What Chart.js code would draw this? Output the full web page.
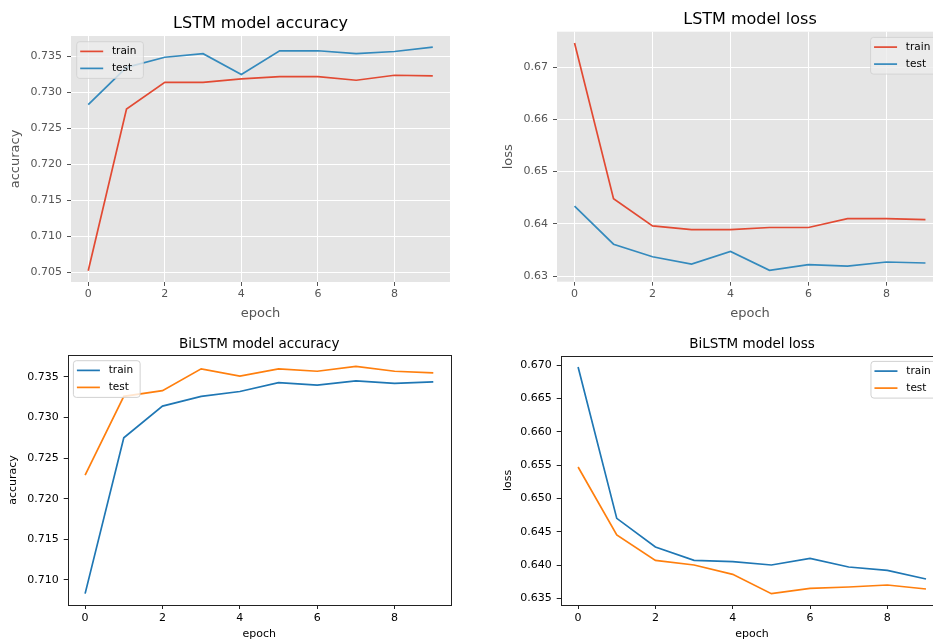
<!DOCTYPE html>
<html>
<head>
<meta charset="utf-8">
<script src="https://cdn.jsdelivr.net/npm/chart.js@4"></script>
<style>
  html, body { margin: 0; padding: 0; background: #fff; overflow: hidden; }
  body { width: 933px; height: 640px; position: relative; }
  canvas { position: absolute; }
</style>
</head>
<body>
<canvas id="lstmAcc" width="465" height="330" style="left:0;top:0"></canvas>
<canvas id="lstmLoss" width="480" height="330" style="left:470px;top:0"></canvas>
<canvas id="biAcc" width="465" height="330" style="left:0;top:320px"></canvas>
<canvas id="biLoss" width="480" height="330" style="left:470px;top:320px"></canvas>
<script>
// datos
var epochs = [0, 1, 2, 3, 4, 5, 6, 7, 8, 9];
var epochTicks = [0, 2, 4, 6, 8];

var lstmAccTrain = [0.7052, 0.7277, 0.7314, 0.7314, 0.7319, 0.7322, 0.7322, 0.7317, 0.7324, 0.7323];
var lstmAccTest  = [0.7283, 0.7335, 0.7349, 0.7354, 0.7325, 0.7358, 0.7358, 0.7354, 0.7357, 0.7363];
var lstmLossTrain = [0.6746, 0.6448, 0.6396, 0.6389, 0.6389, 0.6393, 0.6393, 0.6410, 0.6410, 0.6408];
var lstmLossTest  = [0.6434, 0.6361, 0.6337, 0.6323, 0.6347, 0.6311, 0.6322, 0.6319, 0.6327, 0.6325];

var biAccTrain = [0.7083, 0.7275, 0.7314, 0.7326, 0.7332, 0.7343, 0.7340, 0.7345, 0.7342, 0.7344];
var biAccTest  = [0.7229, 0.7326, 0.7333, 0.7360, 0.7351, 0.7360, 0.7357, 0.7363, 0.7357, 0.7355];
var biLossTrain = [0.6697, 0.6470, 0.6427, 0.6407, 0.6405, 0.6400, 0.6410, 0.6397, 0.6392, 0.6379];
var biLossTest  = [0.6547, 0.6445, 0.6407, 0.6400, 0.6386, 0.6357, 0.6365, 0.6367, 0.6370, 0.6364];

var lstmAccTicks  = [0.705, 0.710, 0.715, 0.720, 0.725, 0.730, 0.735];
var lstmLossTicks = [0.63, 0.64, 0.65, 0.66, 0.67];
var biAccTicks    = [0.710, 0.715, 0.720, 0.725, 0.730, 0.735];
var biLossTicks   = [0.635, 0.640, 0.645, 0.650, 0.655, 0.660, 0.665, 0.670];

Chart.defaults.font.family = '"DejaVu Sans", sans-serif';

// fondo gris, marco y leyenda dentro del area
var decoPlugin = {
    id: 'deco',
    beforeDraw: function (chart, args, opt) {
        if (!opt.bg) return;
        var a = chart.chartArea, ctx = chart.ctx;
        ctx.save();
        ctx.fillStyle = opt.bg;
        ctx.fillRect(a.left, a.top, a.right - a.left, a.bottom - a.top);
        ctx.restore();
    },
    afterDraw: function (chart, args, opt) {
        var a = chart.chartArea, ctx = chart.ctx;
        ctx.save();
        if (opt.frame) {
            ctx.strokeStyle = opt.frame;
            ctx.lineWidth = 1;
            ctx.strokeRect(Math.round(a.left) + 0.5, Math.round(a.top) + 0.5,
                Math.round(a.right - a.left), Math.round(a.bottom - a.top));
        }
        var sets = chart.data.datasets;
        ctx.font = '10.5px "DejaVu Sans"';
        var textW = 0;
        sets.forEach(function (d) { textW = Math.max(textW, ctx.measureText(d.label).width); });
        var w = 35.3 + textW + 7, h = 36.7;
        var x = opt.corner === 'right' ? a.right - 5.7 - w : a.left + 5.7;
        var y = a.top + 5.7;
        ctx.beginPath();
        ctx.roundRect(x, y, w, h, 3);
        ctx.fillStyle = opt.legendFill;
        ctx.fill();
        ctx.strokeStyle = opt.legendEdge;
        ctx.lineWidth = 1;
        ctx.stroke();
        sets.forEach(function (d, i) {
            var cy = y + 9.7 + i * 17;
            ctx.beginPath();
            ctx.moveTo(x + 3.5, cy);
            ctx.lineTo(x + 26.5, cy);
            ctx.strokeStyle = d.borderColor;
            ctx.lineWidth = d.borderWidth;
            ctx.stroke();
            ctx.fillStyle = '#000';
            ctx.textBaseline = 'middle';
            ctx.fillText(d.label, x + 35.3, cy);
        });
        ctx.restore();
    }
};

function makePanel(id, p) {
    var all = p.train.concat(p.test);
    var lo = Math.min.apply(null, all), hi = Math.max.apply(null, all);
    var m = (hi - lo) * 0.05;
    var xm = (epochs[epochs.length - 1] - epochs[0]) * 0.05;
    var gg = p.style === 'ggplot';
    var tickTxt = gg ? '#555' : '#000';
    var gridCfg = gg
        ? { color: '#fff', lineWidth: 1, tickColor: '#555', tickLength: 4, tickWidth: 1 }
        : { drawOnChartArea: false, tickColor: '#222', tickLength: 4, tickWidth: 1 };

    return new Chart(document.getElementById(id), {
        type: 'line',
        data: {
            datasets: [
                { label: 'train', data: epochs.map(function (e, i) { return { x: e, y: p.train[i] }; }),
                  borderColor: p.colors[0], borderWidth: 1.7, pointRadius: 0, tension: 0 },
                { label: 'test', data: epochs.map(function (e, i) { return { x: e, y: p.test[i] }; }),
                  borderColor: p.colors[1], borderWidth: 1.7, pointRadius: 0, tension: 0 }
            ]
        },
        options: {
            responsive: false,
            animation: false,
            events: [],
            layout: { padding: { left: 0, top: 0, right: p.padRight, bottom: 10 } },
            plugins: {
                legend: { display: false },
                tooltip: { enabled: false },
                title: {
                    display: true, text: p.title, fullSize: false, color: '#000',
                    font: { size: p.titleSize, weight: 'normal', lineHeight: 1.2 },
                    padding: { top: p.titleTop, bottom: p.titleBottom }
                },
                deco: {
                    bg: gg ? '#E5E5E5' : null,
                    frame: gg ? null : '#222',
                    corner: p.legendCorner,
                    legendFill: gg ? 'rgba(236,236,236,0.8)' : 'rgba(255,255,255,0.8)',
                    legendEdge: gg ? 'rgba(204,204,204,0.7)' : 'rgba(204,204,204,0.9)'
                }
            },
            scales: {
                x: {
                    type: 'linear',
                    min: epochs[0] - xm,
                    max: epochs[epochs.length - 1] + xm,
                    afterBuildTicks: function (s) { s.ticks = epochTicks.map(function (v) { return { value: v }; }); },
                    afterFit: function (s) { s.height = p.xHeight; },
                    ticks: { color: tickTxt, font: { size: 11 }, padding: gg ? 2 : 3, maxRotation: 0,
                             callback: function (v) { return String(v); } },
                    grid: gridCfg,
                    border: { display: false },
                    title: { display: true, text: 'epoch', color: tickTxt,
                             font: { size: p.labelSize, lineHeight: 1 }, padding: { top: 0, bottom: p.xTitlePad } }
                },
                y: {
                    type: 'linear',
                    min: lo - m,
                    max: hi + m,
                    afterBuildTicks: function (s) { s.ticks = p.yTicks.map(function (v) { return { value: v }; }); },
                    afterFit: function (s) { s.width = p.yWidth; },
                    ticks: { color: tickTxt, font: { size: 11 }, padding: 5,
                             callback: function (v) { return v.toFixed(p.digits); } },
                    grid: gridCfg,
                    border: { display: false },
                    title: { display: true, text: p.yLabel, color: tickTxt,
                             font: { size: p.labelSize, lineHeight: 1.2 }, padding: { top: p.yTitlePad, bottom: 0 } }
                }
            }
        },
        plugins: [decoPlugin]
    });
}

makePanel('lstmAcc', {
    style: 'ggplot', title: 'LSTM model accuracy', yLabel: 'accuracy',
    train: lstmAccTrain, test: lstmAccTest, colors: ['#E24A33', '#348ABD'],
    yTicks: lstmAccTicks, digits: 3, legendCorner: 'left',
    titleSize: 16, titleTop: 14.4, titleBottom: 2.4, labelSize: 13,
    padRight: 15, yWidth: 71, xHeight: 38, yTitlePad: 7.5, xTitlePad: 0
});
makePanel('lstmLoss', {
    style: 'ggplot', title: 'LSTM model loss', yLabel: 'loss',
    train: lstmLossTrain, test: lstmLossTest, colors: ['#E24A33', '#348ABD'],
    yTicks: lstmLossTicks, digits: 2, legendCorner: 'right',
    titleSize: 16, titleTop: 10.1, titleBottom: 2.4, labelSize: 13,
    padRight: 7, yWidth: 87, xHeight: 38.3, yTitlePad: 31.3, xTitlePad: 0
});
makePanel('biAcc', {
    style: 'classic', title: 'BiLSTM model accuracy', yLabel: 'accuracy',
    train: biAccTrain, test: biAccTest, colors: ['#1f77b4', '#ff7f0e'],
    yTicks: biAccTicks, digits: 3, legendCorner: 'left',
    titleSize: 13.5, titleTop: 16.5, titleBottom: 2.3, labelSize: 11,
    padRight: 14.3, yWidth: 67.7, xHeight: 35, yTitlePad: 6.3, xTitlePad: 0.6
});
makePanel('biLoss', {
    style: 'classic', title: 'BiLSTM model loss', yLabel: 'loss',
    train: biLossTrain, test: biLossTest, colors: ['#1f77b4', '#ff7f0e'],
    yTicks: biLossTicks, digits: 3, legendCorner: 'right',
    titleSize: 13.5, titleTop: 16.5, titleBottom: 3.0, labelSize: 11,
    padRight: 6.6, yWidth: 90.7, xHeight: 35, yTitlePad: 31.7, xTitlePad: 0.6
});
</script>
</body>
</html>
